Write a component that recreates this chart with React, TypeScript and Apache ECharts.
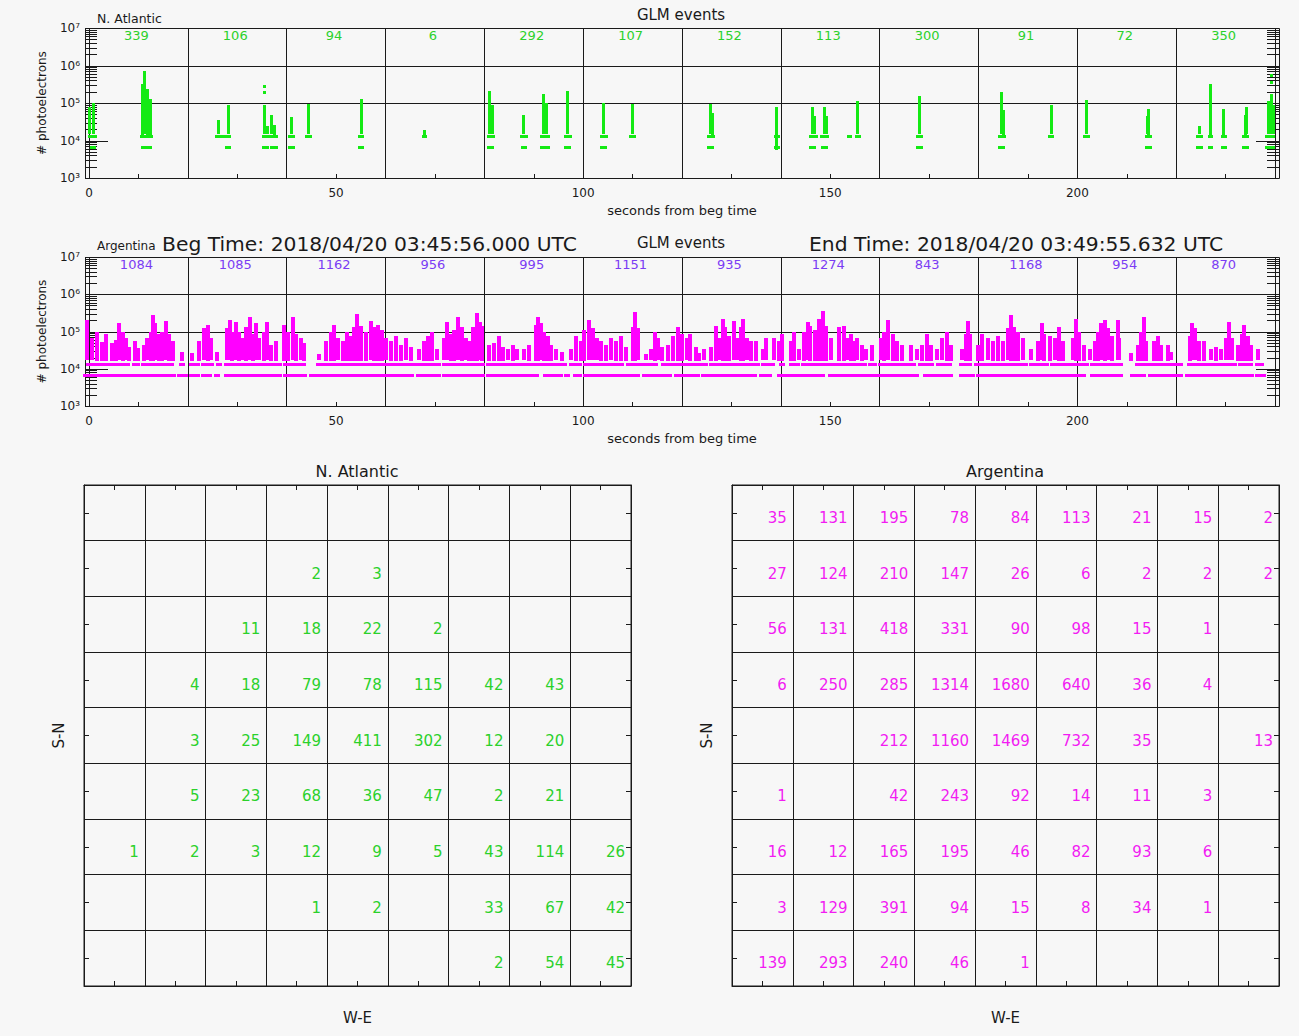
import React, { useEffect, useRef } from "react";
import * as echarts from "echarts";

// ---------- data ----------
const BIN_CENTERS = [10, 30, 50, 70, 90, 110, 130, 150, 170, 190, 210, 230];
const NA_BIN_COUNTS = [339, 106, 94, 6, 292, 107, 152, 113, 300, 91, 72, 350];
const AR_BIN_COUNTS = [1084, 1085, 1162, 956, 995, 1151, 935, 1274, 843, 1168, 954, 870];

const Y_MAJOR = [1e3, 1e4, 1e5, 1e6, 1e7];
const Y_TICK_LABELS = ["10³", "10⁴", "10⁵", "10⁶", "10⁷"];
const Y_MINOR = [
  2e3, 3e3, 4e3, 5e3, 6e3, 7e3, 8e3, 9e3,
  2e4, 3e4, 4e4, 5e4, 6e4, 7e4, 8e4, 9e4,
  2e5, 3e5, 4e5, 5e5, 6e5, 7e5, 8e5, 9e5,
  2e6, 3e6, 4e6, 5e6, 6e6, 7e6, 8e6, 9e6,
];
const Y_GRIDLINES = [1e5, 1e6];
const X_LABELS = [0, 50, 100, 150, 200];

// quantized low levels of events (photoelectrons)
const LEVEL_HI = 1.28e4;
const LEVEL_LO = 6.4e3;

// N. Atlantic event columns: [time s, low, high]
const NA_COLUMNS = [
  [0.2, 1.6e4, 7.2e4], [1.0, 1.6e4, 8.9e4], [10.8, 1.6e4, 3.0e5], [11.3, 1.6e4, 6.5e5],
  [11.9, 1.6e4, 2.2e5], [12.4, 1.6e4, 1.2e5], [26.3, 1.6e4, 3.2e4], [28.2, 1.6e4, 8e4],
  [35.6, 1.6e4, 8e4], [36.2, 1.6e4, 2.2e4], [37.0, 1.6e4, 4.4e4], [37.6, 1.6e4, 2.4e4],
  [40.9, 1.6e4, 3.8e4], [44.4, 1.6e4, 8.5e4], [55.1, 1.6e4, 1.15e5], [67.9, 1.5e4, 1.7e4],
  [81.0, 1.6e4, 1.9e5], [81.6, 1.6e4, 8e4], [87.9, 1.6e4, 4.4e4], [92.0, 1.6e4, 1.6e5],
  [92.6, 1.6e4, 9e4], [96.8, 1.6e4, 1.9e5], [104.2, 1.6e4, 8.9e4], [109.9, 1.6e4, 8.5e4],
  [125.7, 1.6e4, 8.5e4], [126.2, 1.6e4, 5e4], [139.2, 6e3, 7e4], [146.4, 1.6e4, 7e4],
  [146.9, 1.6e4, 4e4], [148.8, 1.6e4, 7.2e4], [149.2, 1.6e4, 4e4], [155.6, 1.6e4, 1e5],
  [168.0, 1.6e4, 1.4e5], [184.7, 1.6e4, 1.8e5], [185.1, 1.6e4, 6e4], [194.7, 1.6e4, 8e4],
  [201.8, 1.6e4, 1.1e5], [214.2, 1.6e4, 4e4], [214.5, 1.6e4, 6.5e4], [224.7, 1.6e4, 2.2e4],
  [227.0, 1.6e4, 3e5], [229.6, 1.6e4, 6.5e4], [234.0, 1.6e4, 4.5e4], [234.3, 1.6e4, 7e4],
  [238.6, 1.6e4, 1e5], [239.2, 1.6e4, 1.6e5], [239.6, 1.6e4, 8e4],
];
const NA_DOTS = [[35.6, 2.8e5], [35.6, 1.9e5], [239.2, 5.5e5], [239.2, 3.5e5]];
const NA_ROW_HI = [
  [0, 1.2], [10.6, 12.6], [25.9, 28.5], [35.3, 38], [40.6, 41.4], [44, 44.8], [54.8, 55.4],
  [67.7, 68.1], [80.8, 81.8], [87.6, 88.6], [91.6, 93], [96.4, 97.4], [103.8, 104.8],
  [109.5, 110.3], [125.4, 126.5], [138.9, 139.5], [146, 147.2], [148.3, 149.5], [153.6, 154],
  [155.3, 155.9], [167.6, 168.4], [184.3, 185.3], [194.4, 195.1], [201.4, 202.3], [214, 214.9],
  [224.4, 225.3], [226.8, 227.3], [229.3, 230], [233.7, 234.5], [238.3, 239.8],
];
const NA_ROW_LO = [
  [0.5, 1.2], [10.8, 12.4], [27.9, 28.5], [35.3, 36.1], [37, 38], [40.6, 41.4], [54.8, 55.4],
  [80.8, 81.6], [87.8, 88.4], [91.6, 93], [96.4, 97.2], [103.8, 104.6], [125.4, 126.3],
  [138.9, 139.5], [146, 146.8], [148.5, 149.3], [167.6, 168.4], [184.3, 185.1], [214, 214.9],
  [224.4, 225.3], [226.8, 227.3], [229.3, 230], [233.7, 234.5], [238.3, 239.8],
];

// Argentina event columns: [time s, high]; all start at AR_COLUMN_BASE
const AR_COLUMN_BASE = 1.8e4;
const AR_COLUMNS = [
  [-0.4, 1.8e5], [0.7, 6e4], [1.7, 9e4], [2.7, 4.9e4], [3.4, 8e4], [4.7, 4.5e4], [5.4, 5.5e4],
  [6.1, 1.5e5], [6.8, 9e4], [7.4, 6e4], [8.1, 3.6e4], [9.4, 5e4], [9.9, 3.3e4], [11.1, 4e4],
  [11.8, 6e4], [12.5, 9e4], [13.0, 2.5e5], [13.4, 1.5e5], [14.2, 8e4], [14.8, 9e4], [15.5, 1.7e5],
  [16.2, 8e4], [16.9, 5e4], [18.9, 2.6e4], [20.9, 2.4e4], [22.3, 5e4], [23.3, 1.1e5], [24.1, 1.4e5],
  [24.6, 6e4], [26.0, 2.6e4], [28.0, 1.1e5], [28.5, 1.8e5], [29.0, 9e4], [29.7, 1.6e5], [30.4, 9e4],
  [31.0, 6e4], [31.7, 1.2e5], [32.5, 2.2e5], [33.1, 8e4], [33.7, 1.5e5], [34.4, 6e4], [35.4, 9e4],
  [36.0, 1.6e5], [36.8, 4e4], [37.8, 5e4], [39.5, 1.4e5], [40.3, 9e4], [41.2, 2.2e5], [41.8, 8e4],
  [42.8, 6e4], [43.5, 4.5e4], [46.6, 2.2e4], [47.9, 5e4], [48.9, 9e4], [49.6, 1.4e5], [50.3, 6e4],
  [51.3, 5e4], [52.3, 9e4], [53.0, 7e4], [53.6, 1.2e5], [54.3, 2.7e5], [55.0, 1.3e5], [56.0, 9e4],
  [57.0, 1.7e5], [57.7, 1.2e5], [58.4, 1.4e5], [59.2, 1e5],
  [60.0, 6e4], [61.1, 5e4], [62.1, 7e4], [63.1, 4e4], [64.1, 6e4], [65.1, 3.5e4], [66.8, 3e4],
  [67.8, 5e4], [68.5, 7e4], [69.5, 9e4], [70.5, 3e4], [71.8, 6e4], [72.4, 1.6e5], [73.2, 8e4],
  [73.9, 1e5], [74.7, 2.2e5], [75.4, 1.2e5], [76.2, 6e4], [76.9, 5e4], [77.8, 1.2e5], [78.5, 2.9e5],
  [79.1, 1.6e5], [79.6, 1.3e5], [81.0, 4e4], [82.0, 4.5e4], [83.0, 7e4], [83.7, 3.5e4], [84.7, 3e4],
  [85.7, 4e4], [86.7, 3e4], [88.0, 3e4], [89.1, 4e4], [90.4, 1.4e5], [90.9, 2.3e5], [91.4, 1.5e5],
  [92.1, 9e4], [92.8, 7e4], [93.4, 4e4], [94.5, 3e4], [95.8, 2.6e4], [97.5, 3e4], [98.5, 7e4],
  [99.5, 5e4], [100.2, 1e5], [101.2, 1.8e5], [101.9, 1.1e5], [102.9, 6e4], [103.6, 5e4], [104.6, 4e4],
  [105.6, 6e4], [106.6, 5e4], [107.7, 7e4], [108.6, 3.5e4], [110.0, 1.2e5], [110.4, 3e5], [111.0, 1.1e5],
  [112.7, 2.2e4], [113.7, 3e4], [114.5, 9e4], [115.2, 6e4], [116.0, 3.5e4], [117.1, 4e4], [118.1, 7e4],
  [119.1, 1.2e5], [120.0, 8e4],
  [121.1, 6e4], [121.7, 8e4], [122.8, 3.5e4], [123.4, 2.4e4], [124.4, 3e4], [125.8, 3.5e4], [126.8, 1.3e5],
  [127.5, 6e4], [128.2, 2e5], [128.8, 1.2e5], [129.5, 7e4], [130.5, 1.7e5], [131.2, 6e4], [131.9, 1.2e5],
  [132.4, 2e5], [133.1, 6e4], [133.9, 5e4], [134.9, 5e4], [136.3, 3e4], [136.9, 6e4], [138.6, 6e4],
  [139.6, 5e4], [140.3, 8e4], [142.0, 5e4], [142.7, 9e4], [143.7, 3e4], [144.7, 9e4], [145.4, 1.6e5],
  [146.0, 1.3e5], [146.9, 1e5], [147.7, 2e5], [148.6, 3.2e5], [149.1, 1.3e5], [150.1, 6e4], [151.8, 1.2e5],
  [152.7, 1.3e5], [153.5, 6e4], [154.1, 8e4], [154.8, 5e4], [155.5, 6e4], [156.5, 4e4], [157.2, 3e4],
  [158.5, 4e4], [160.2, 6e4], [160.9, 9e4], [161.7, 1.8e5], [162.6, 8e4], [163.6, 5e4], [164.6, 4e4],
  [166.3, 4e4], [167.6, 3e4], [168.6, 4e4], [169.5, 8e4], [170.3, 4e4], [171.7, 3e4], [172.7, 6e4],
  [173.7, 9e4], [174.4, 4e4], [176.7, 3e4], [177.4, 8e4], [177.8, 1.7e5], [178.3, 8e4], [179.8, 4e4],
  [180.7, 8e4],
  [181.9, 6e4], [182.9, 5e4], [183.9, 7e4], [184.9, 5e4], [185.9, 1.1e5], [186.5, 2.5e5], [187.1, 1.2e5],
  [187.9, 9e4], [189.0, 6e4], [190.6, 3e4], [192.0, 5e4], [192.8, 1.5e5], [193.3, 8e4], [194.4, 7e4],
  [195.4, 6e4], [196.2, 1.2e5], [197.1, 5e4], [199.1, 6e4], [199.8, 2e5], [200.4, 9e4], [201.4, 4e4],
  [202.5, 3e4], [203.5, 5e4], [204.1, 9e4], [204.8, 1.5e5], [205.5, 1.9e5], [206.3, 1.1e5], [207.0, 7e4],
  [208.2, 1.8e5], [208.5, 6e4], [210.9, 2.4e4], [212.2, 4e4], [212.9, 9e4], [213.5, 2.3e5], [213.9, 5e4],
  [215.6, 5e4], [216.3, 7e4], [217.0, 4e4], [218.3, 4e4], [219.0, 2.5e4], [222.7, 7e4], [223.2, 1.5e5],
  [223.9, 1.1e5], [224.7, 5e4], [225.7, 5e4], [227.1, 3e4], [228.1, 3.5e4], [229.1, 3e4], [230.1, 6e4],
  [230.6, 1.6e5], [231.3, 6e4], [232.5, 4e4], [233.3, 8e4], [233.7, 1.4e5], [234.5, 7e4], [235.2, 4e4],
  [236.5, 3e4],
];
const AR_ROW_HI = [
  [-0.3, 3.7], [4.4, 8.1], [9.1, 10.1], [10.8, 16.9], [18.6, 19.2], [20.6, 22.3], [23, 25], [26, 26.7],
  [27.7, 34.7], [35.4, 38.8], [39.5, 43.5], [46.2, 48.2], [48.9, 59.7],
  [59.7, 66.1], [66.8, 70.8], [71.8, 79.9], [80.6, 84], [84.7, 89.7], [90.1, 94.8], [95.5, 96.5],
  [97.5, 99.5], [100.2, 103.6], [104.2, 108], [109, 112], [112.7, 115], [116, 120.4],
  [120.4, 125.1], [125.8, 131.2], [131.9, 135.6], [136.3, 138.6], [140, 140.6], [142, 143.7],
  [144.4, 149.4], [150.1, 157.2], [157.9, 159.2], [159.9, 167], [168, 170.7], [171.7, 174.4],
  [176.4, 178.4], [179.4, 181.2],
  [181.2, 189.6], [190.6, 194], [194.7, 198.1], [198.7, 202.1], [202.8, 208.9], [211.9, 213.9],
  [214.6, 217], [217.6, 221], [222.4, 227.8], [228.4, 232.1], [232.8, 235.2], [236.2, 237.5],
];
const AR_ROW_LO = [
  [-1, 3.7], [4.4, 10.5], [10.8, 17.2], [18.2, 19.9], [20.6, 22.3], [23, 24.6], [25.6, 26.3],
  [27.7, 34.7], [35.4, 38.8], [39.5, 42.2], [42.8, 43.9], [44.9, 59.7],
  [59.7, 64.1], [64.8, 65.4], [66.4, 70.8], [71.8, 79.9], [80.6, 84], [84.7, 90.7], [92.1, 95.5],
  [96.5, 97.2], [98.2, 99.5], [100.2, 104.2], [104.9, 108.3], [109, 111.3], [112.3, 117.7], [118.7, 120.4],
  [120.4, 123.4], [124.1, 131.2], [131.9, 134.9], [135.9, 137.9], [139.6, 148.7], [149.8, 156.8],
  [157.5, 167.6], [169, 174.4], [176.4, 179.1], [179.8, 181.2],
  [181.2, 189.6], [190.3, 201.4], [202.8, 208.9], [210.9, 213.6], [214.6, 217], [217.6, 221],
  [222, 227.8], [228.4, 235.5], [236.2, 237.9],
];

// flash counts per lat/lon cell, rows from N (top) to S, columns W to E
const GRID_COLS = ["1", "2", "3", "4", "5", "6", "7", "8", "9"];
const GRID_ROWS = ["1", "2", "3", "4", "5", "6", "7", "8", "9"];
const NA_CELLS = [
  [null, null, null, null, null, null, null, null, null],
  [null, null, null, 2, 3, null, null, null, null],
  [null, null, 11, 18, 22, 2, null, null, null],
  [null, 4, 18, 79, 78, 115, 42, 43, null],
  [null, 3, 25, 149, 411, 302, 12, 20, null],
  [null, 5, 23, 68, 36, 47, 2, 21, null],
  [1, 2, 3, 12, 9, 5, 43, 114, 26],
  [null, null, null, 1, 2, null, 33, 67, 42],
  [null, null, null, null, null, null, 2, 54, 45],
];
const AR_CELLS = [
  [35, 131, 195, 78, 84, 113, 21, 15, 2],
  [27, 124, 210, 147, 26, 6, 2, 2, 2],
  [56, 131, 418, 331, 90, 98, 15, 1, null],
  [6, 250, 285, 1314, 1680, 640, 36, 4, null],
  [null, null, 212, 1160, 1469, 732, 35, null, 13],
  [1, null, 42, 243, 92, 14, 11, 3, null],
  [16, 12, 165, 195, 46, 82, 93, 6, null],
  [3, 129, 391, 94, 15, 8, 34, 1, null],
  [139, 293, 240, 46, 1, null, null, null, null],
];

// ---------- styling ----------
const FONT = "DejaVu Sans, sans-serif";
const INK = "#1a1a1a";
const GREEN = "#14ea14";
const GREEN_TEXT = "#2bd12b";
const MAGENTA = "#ff00ff";
const MAGENTA_TEXT = "#f21cf2";
const VIOLET = "#7b3cf4";
const BG = "#f7f7f7";

function crisp(v: number) {
  return Math.round(v) + 0.5;
}

function tickSeries(xi: number, yi: number, values: number[], len: number) {
  return {
    type: "custom",
    xAxisIndex: xi,
    yAxisIndex: yi,
    silent: true,
    data: values.map((v) => [0, v]),
    renderItem: (params: any, api: any) => {
      const cs = params.coordSys;
      const y = crisp(api.coord([0, api.value(1)])[1]);
      const L = cs.x - 4;
      const R = cs.x + cs.width + 4;
      return {
        type: "group",
        children: [
          { type: "line", shape: { x1: L, y1: y, x2: L + len, y2: y }, style: { stroke: INK, lineWidth: 1 } },
          { type: "line", shape: { x1: R, y1: y, x2: R - len, y2: y }, style: { stroke: INK, lineWidth: 1 } },
        ],
      };
    },
  };
}

function hlineSeries(xi: number, yi: number) {
  return {
    type: "custom",
    xAxisIndex: xi,
    yAxisIndex: yi,
    silent: true,
    data: Y_GRIDLINES.map((v) => [0, v]),
    renderItem: (params: any, api: any) => {
      const cs = params.coordSys;
      const y = crisp(api.coord([0, api.value(1)])[1]);
      return {
        type: "line",
        shape: { x1: cs.x - 4, y1: y, x2: cs.x + cs.width + 4, y2: y },
        style: { stroke: INK, lineWidth: 1 },
      };
    },
  };
}

function columnSeries(xi: number, yi: number, data: number[][], color: string, w: number) {
  return {
    type: "custom",
    xAxisIndex: xi,
    yAxisIndex: yi,
    silent: true,
    data,
    encode: { x: 0, y: [1, 2] },
    renderItem: (params: any, api: any) => {
      const lo = api.coord([api.value(0), api.value(1)]);
      const hi = api.coord([api.value(0), api.value(2)]);
      return {
        type: "rect",
        shape: { x: Math.round(lo[0] - w / 2), y: Math.round(hi[1] - 1.5), width: w, height: Math.round(lo[1] - hi[1]) + 3 },
        style: { fill: color },
      };
    },
  };
}

function rowSeries(xi: number, yi: number, segs: number[][], level: number, color: string) {
  return {
    type: "custom",
    xAxisIndex: xi,
    yAxisIndex: yi,
    silent: true,
    data: segs.map((s) => [s[0], level, s[1]]),
    renderItem: (params: any, api: any) => {
      const a = api.coord([api.value(0), api.value(1)]);
      const b = api.coord([api.value(2), api.value(1)]);
      return {
        type: "rect",
        shape: { x: Math.round(a[0] - 1.5), y: Math.round(a[1] - 1.5), width: Math.round(b[0] - a[0]) + 3, height: 3 },
        style: { fill: color },
      };
    },
  };
}

function countLabelSeries(xi: number, yi: number, counts: number[], color: string) {
  return {
    type: "custom",
    xAxisIndex: xi,
    yAxisIndex: yi,
    silent: true,
    data: BIN_CENTERS.map((t, i) => [t, 1e7, counts[i]]),
    encode: { x: 0, y: 1 },
    renderItem: (params: any, api: any) => {
      const p = api.coord([api.value(0), api.value(1)]);
      return {
        type: "text",
        x: p[0] - 2,
        y: p[1] + 7,
        style: {
          text: String(api.value(2)),
          fill: color,
          fontSize: 13,
          fontFamily: FONT,
          align: "center",
          verticalAlign: "middle",
        },
      };
    },
  };
}

function cellTextSeries(xi: number, yi: number, cells: (number | null)[][], color: string) {
  const data: number[][] = [];
  cells.forEach((row, r) =>
    row.forEach((v, c) => {
      if (v !== null) data.push([c, r, v]);
    })
  );
  return {
    type: "custom",
    xAxisIndex: xi,
    yAxisIndex: yi,
    silent: true,
    data,
    renderItem: (params: any, api: any) => {
      const p = api.coord([api.value(0), api.value(1)]);
      const s = api.size([1, 1]);
      return {
        type: "text",
        x: p[0] + s[0] / 2 - 6,
        y: p[1] + 5,
        style: {
          text: String(api.value(2)),
          fill: color,
          fontSize: 15,
          fontFamily: FONT,
          align: "right",
          verticalAlign: "middle",
        },
      };
    },
  };
}

function timeAxes(gi: number) {
  return [
    {
      type: "value",
      gridIndex: gi,
      min: 0,
      max: 240,
      interval: 20,
      axisLine: { show: false },
      axisTick: { show: false },
      axisLabel: { show: false },
      splitLine: { show: true, lineStyle: { color: INK, width: 1 } },
    },
    {
      type: "value",
      gridIndex: gi,
      min: 0,
      max: 240,
      interval: 10,
      position: "bottom",
      axisLine: { show: false },
      axisTick: { show: true, inside: true, length: 4, lineStyle: { color: INK } },
      splitLine: { show: false },
      axisLabel: {
        show: true,
        margin: 9,
        color: INK,
        fontSize: 12,
        fontFamily: FONT,
        formatter: (v: number) => (X_LABELS.indexOf(v) >= 0 ? String(v) : ""),
      },
      name: "seconds from beg time",
      nameLocation: "middle",
      nameGap: 26,
      nameTextStyle: { color: INK, fontSize: 13, fontFamily: FONT },
    },
  ];
}

function logAxis(gi: number) {
  return {
    type: "log",
    logBase: 10,
    gridIndex: gi,
    min: 1e3,
    max: 1e7,
    offset: 4,
    axisLine: { show: false },
    axisTick: { show: false },
    splitLine: { show: false },
    axisLabel: {
      show: true,
      margin: 5,
      color: INK,
      fontSize: 12,
      fontFamily: FONT,
      formatter: (v: number) => {
        const i = Math.round(Math.log10(v)) - 3;
        return Y_TICK_LABELS[i] ?? "";
      },
    },
    name: "# photoelectrons",
    nameLocation: "middle",
    nameGap: 37,
    nameTextStyle: { color: INK, fontSize: 12, fontFamily: FONT },
  };
}

function catX(gi: number, pos: "bottom" | "top", withName: boolean) {
  return {
    type: "category",
    gridIndex: gi,
    data: GRID_COLS,
    position: pos,
    boundaryGap: true,
    axisLine: { show: true, lineStyle: { color: INK } },
    axisTick: { show: true, inside: true, alignWithLabel: true, length: 5, lineStyle: { color: INK } },
    axisLabel: { show: false },
    splitLine: { show: pos === "bottom", lineStyle: { color: INK } },
    name: withName ? "W-E" : "",
    nameLocation: "middle",
    nameGap: 24,
    nameTextStyle: { color: INK, fontSize: 15, fontFamily: FONT },
  };
}

function catY(gi: number, pos: "left" | "right", withName: boolean) {
  return {
    type: "category",
    gridIndex: gi,
    data: GRID_ROWS,
    inverse: true,
    position: pos,
    boundaryGap: true,
    axisLine: { show: true, lineStyle: { color: INK } },
    axisTick: { show: true, inside: true, alignWithLabel: true, length: 5, lineStyle: { color: INK } },
    axisLabel: { show: false },
    splitLine: { show: pos === "left", lineStyle: { color: INK } },
    name: withName ? "S-N" : "",
    nameLocation: "middle",
    nameGap: 18,
    nameTextStyle: { color: INK, fontSize: 15, fontFamily: FONT },
  };
}

function label(x: number, y: number, text: string, size: number, align: string) {
  return {
    type: "text",
    x,
    y,
    silent: true,
    style: {
      text,
      fill: INK,
      fontSize: size,
      fontFamily: FONT,
      align,
      verticalAlign: "middle",
      textAlign: align,
      textVerticalAlign: "middle",
    },
  };
}

function frame(x: number, y: number, w: number, h: number) {
  return {
    type: "rect",
    silent: true,
    shape: { x: x + 0.5, y: y + 0.5, width: w, height: h },
    style: { fill: "none", stroke: INK, lineWidth: 1 },
  };
}

export default function App() {
  const ref = useRef<HTMLDivElement>(null);

  useEffect(() => {
    if (!ref.current) return;
    const chart = echarts.init(ref.current, undefined, { renderer: "svg" });

    const naCols = NA_COLUMNS;
    const naDots = NA_DOTS.map((d) => [d[0], d[1], d[1]]);
    const arCols = AR_COLUMNS.map((c) => [c[0], AR_COLUMN_BASE, c[1]]);

    const option: any = {
      animation: false,
      backgroundColor: BG,
      textStyle: { fontFamily: FONT },
      grid: [
        { left: 89, top: 28, width: 1186, height: 150 },
        { left: 89, top: 257, width: 1186, height: 149 },
        { left: 84, top: 485, width: 547, height: 501, show: true, borderColor: INK, borderWidth: 1, backgroundColor: "transparent" },
        { left: 732, top: 485, width: 547, height: 501, show: true, borderColor: INK, borderWidth: 1, backgroundColor: "transparent" },
      ],
      xAxis: [
        ...timeAxes(0),
        ...timeAxes(1),
        catX(2, "bottom", true),
        catX(2, "top", false),
        catX(3, "bottom", true),
        catX(3, "top", false),
      ],
      yAxis: [
        logAxis(0),
        logAxis(1),
        catY(2, "left", true),
        catY(2, "right", false),
        catY(3, "left", true),
        catY(3, "right", false),
      ],
      graphic: [
        frame(85, 28, 1194, 150),
        frame(85, 257, 1194, 149),
        label(97, 18, "N. Atlantic", 12.5, "left"),
        label(681, 15, "GLM events", 15, "center"),
        label(97, 246, "Argentina", 12, "left"),
        label(162, 244, "Beg Time: 2018/04/20 03:45:56.000 UTC", 20.3, "left"),
        label(681, 243, "GLM events", 15, "center"),
        label(809, 244, "End Time: 2018/04/20 03:49:55.632 UTC", 20.3, "left"),
        label(357, 471, "N. Atlantic", 16, "center"),
        label(1005, 471, "Argentina", 16, "center"),
      ],
      series: [
        // top panel: N. Atlantic
        hlineSeries(0, 0),
        tickSeries(0, 0, Y_MAJOR, 23),
        tickSeries(0, 0, Y_MINOR, 12),
        columnSeries(0, 0, naCols, GREEN, 3),
        columnSeries(0, 0, naDots, GREEN, 3),
        rowSeries(0, 0, NA_ROW_HI, LEVEL_HI, GREEN),
        rowSeries(0, 0, NA_ROW_LO, LEVEL_LO, GREEN),
        countLabelSeries(0, 0, NA_BIN_COUNTS, GREEN_TEXT),
        // middle panel: Argentina
        hlineSeries(2, 1),
        tickSeries(2, 1, Y_MAJOR, 23),
        tickSeries(2, 1, Y_MINOR, 12),
        columnSeries(2, 1, arCols, MAGENTA, 4),
        rowSeries(2, 1, AR_ROW_HI, LEVEL_HI, MAGENTA),
        rowSeries(2, 1, AR_ROW_LO, LEVEL_LO, MAGENTA),
        countLabelSeries(2, 1, AR_BIN_COUNTS, VIOLET),
        // bottom grids
        cellTextSeries(4, 2, NA_CELLS, GREEN_TEXT),
        cellTextSeries(6, 4, AR_CELLS, MAGENTA_TEXT),
      ],
    };

    chart.setOption(option);
    return () => chart.dispose();
  }, []);

  return (
    <div
      ref={ref}
      style={{ position: "absolute", left: 0, top: 0, width: 1299, height: 1036 }}
    />
  );
}
